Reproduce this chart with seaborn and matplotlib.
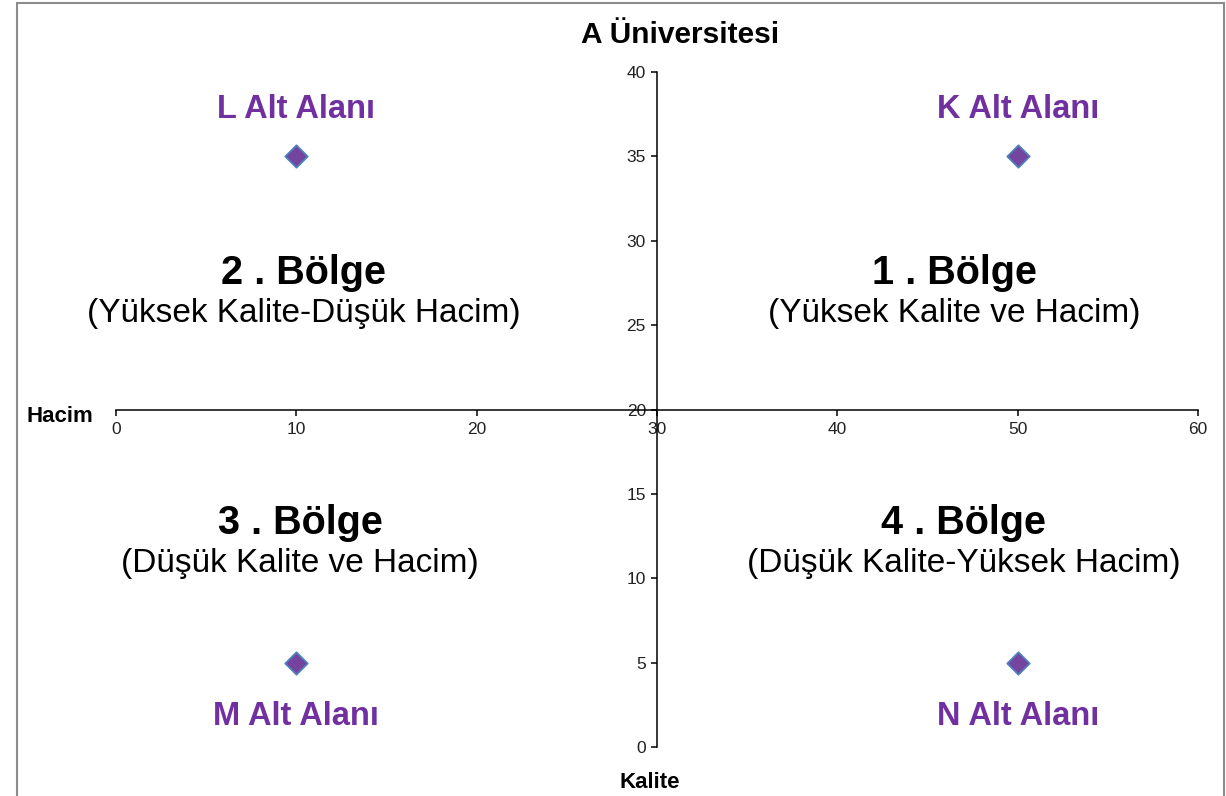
import pandas as pd
import matplotlib.pyplot as plt
import matplotlib.patches as mpatches
import seaborn as sns

# data
areas = ['L Alt Alanı', 'K Alt Alanı', 'M Alt Alanı', 'N Alt Alanı']
hacim = [10, 50, 10, 50]
kalite = [35, 35, 5, 5]

regions = ['2 . Bölge', '1 . Bölge', '3 . Bölge', '4 . Bölge']
region_desc = ['(Yüksek Kalite-Düşük Hacim)', '(Yüksek Kalite ve Hacim)',
               '(Düşük Kalite ve Hacim)', '(Düşük Kalite-Yüksek Hacim)']

x_ticks = [0, 10, 20, 30, 40, 50, 60]
y_ticks = [0, 5, 10, 15, 20, 25, 30, 35, 40]

df = pd.DataFrame({'area': areas, 'hacim': hacim, 'kalite': kalite})

sns.set_style("white")
plt.rcParams['font.family'] = ['Liberation Sans', 'DejaVu Sans']
plt.rcParams['text.color'] = 'black'

purple = '#7030A0'

fig = plt.figure(figsize=(12.26, 7.96), dpi=100)
ax = fig.add_axes([116 / 1226, 1 - 747 / 796, (1198 - 116) / 1226, (747 - 72) / 796])

sns.scatterplot(data=df, x='hacim', y='kalite', marker='D', s=130,
                color='#74449E', edgecolor='#4F81BD', linewidth=1.3, ax=ax, zorder=3)

ax.set_xlim(0, 60)
ax.set_ylim(0, 40)
ax.set_xticks(x_ticks)
ax.set_yticks(y_ticks)
ax.set_xlabel('')
ax.set_ylabel('')

# cross axes at (30, 20)
ax.spines['left'].set_position(('data', 30))
ax.spines['bottom'].set_position(('data', 20))
ax.spines['top'].set_visible(False)
ax.spines['right'].set_visible(False)
for s in ['left', 'bottom']:
    ax.spines[s].set_color('black')
    ax.spines[s].set_linewidth(1.1)
ax.tick_params(axis='both', direction='out', length=4, width=1.1, color='black',
               labelsize=12.5, labelcolor='#222222', bottom=True, left=True)
ax.tick_params(axis='x', pad=5)
ax.tick_params(axis='y', pad=4)

# area labels (offset above / below the points)
offs = [2.75, 2.75, -3.2, -3.2]
for a, x, y, o in zip(areas, hacim, kalite, offs):
    ax.text(x, y + o, a, ha='center', va='center', fontsize=23.5,
            fontweight='bold', color=purple)

# region labels
reg_x = [10.4, 46.5, 10.2, 47.0]
reg_y = [28.1, 28.1, 13.3, 13.3]
for r, d, x, y in zip(regions, region_desc, reg_x, reg_y):
    ax.text(x, y, r, ha='center', va='center', fontsize=28.5, fontweight='bold', color='black')
    ax.text(x, y - 2.4, d, ha='center', va='center', fontsize=24, color='black')

fig.text(680 / 1226, 1 - 35 / 796, 'A Üniversitesi', ha='center', va='center',
         fontsize=21.5, fontweight='bold')
fig.text(650 / 1226, 1 - 782 / 796, 'Kalite', ha='center', va='center',
         fontsize=16, fontweight='bold')
fig.text(93 / 1226, 1 - 417 / 796, 'Hacim', ha='right', va='center',
         fontsize=16, fontweight='bold')

# outer border
border = mpatches.Rectangle((16.5 / 1226, -0.05), (1224 - 16.5) / 1226, 1.05 - 3.5 / 796,
                            transform=fig.transFigure, fill=False,
                            edgecolor='#8c8c8c', linewidth=1.5)
fig.patches.append(border)

fig.savefig('out.png', dpi=100)
